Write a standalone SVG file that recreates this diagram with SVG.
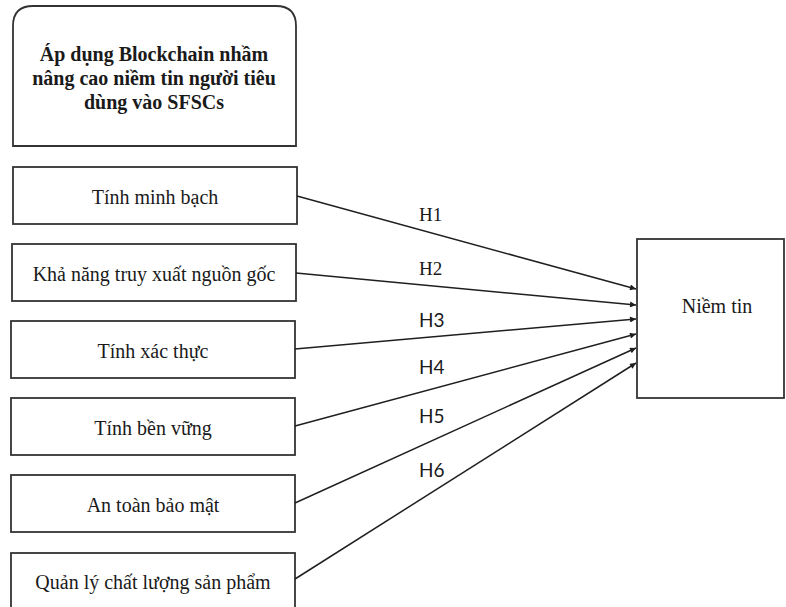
<svg xmlns="http://www.w3.org/2000/svg" width="786" height="607" viewBox="0 0 786 607">
  <style>
    .box { fill: #ffffff; stroke: #333333; stroke-width: 1.8; }
    .lbl { font-family: "Liberation Serif", "Times New Roman", serif; font-size: 20px; fill: #1a1a1a; text-anchor: middle; }
    .title { font-weight: bold; }
    .hyp-serif { font-family: "Liberation Serif", "Times New Roman", serif; font-size: 19px; fill: #1a1a1a; }
    .hyp-sans { font-family: Lato, "Liberation Sans", sans-serif; font-size: 19px; fill: #1a1a1a; }
    .edge { stroke: #1f1f1f; stroke-width: 1.5; fill: none; marker-end: url(#arrow); }
  </style>
  <defs>
    <marker id="arrow" viewBox="0 0 10 10" refX="10" refY="5" markerWidth="5" markerHeight="4" markerUnits="strokeWidth" orient="auto">
      <path d="M0,0 L10,5 L0,10 z" fill="#1f1f1f"/>
    </marker>
  </defs>
  <rect width="786" height="607" fill="#ffffff"/>

  <g id="title">
    <path class="box" d="M13,146 L13,26 Q13,6 33,6 L276,6 Q296,6 296,26 L296,146 Z"/>
    <text class="lbl title" x="154" y="61">Áp dụng Blockchain nhầm</text>
    <text class="lbl title" x="154" y="85">nâng cao niềm tin người tiêu</text>
    <text class="lbl title" x="154" y="109">dùng vào SFSCs</text>
  </g>

  <g id="n1">
    <rect class="box" x="13" y="167" width="284" height="57"/>
    <text class="lbl" x="155" y="204">Tính minh bạch</text>
  </g>
  <g id="n2">
    <rect class="box" x="12" y="244" width="284" height="57"/>
    <text class="lbl" x="154" y="281">Khả năng truy xuất nguồn gốc</text>
  </g>
  <g id="n3">
    <rect class="box" x="11" y="321" width="284" height="57"/>
    <text class="lbl" x="153" y="358">Tính xác thực</text>
  </g>
  <g id="n4">
    <rect class="box" x="11" y="398" width="284" height="57"/>
    <text class="lbl" x="153" y="435">Tính bền vững</text>
  </g>
  <g id="n5">
    <rect class="box" x="11" y="475" width="284" height="57"/>
    <text class="lbl" x="153" y="512">An toàn bảo mật</text>
  </g>
  <g id="n6">
    <rect class="box" x="11" y="553" width="284" height="57"/>
    <text class="lbl" x="153" y="589">Quản lý chất lượng sản phẩm</text>
  </g>

  <g id="trust">
    <rect class="box" x="637" y="239" width="147" height="159"/>
    <text class="lbl" x="717" y="313">Niềm tin</text>
  </g>

  <g id="connectors">
    <line class="edge" x1="297" y1="196" x2="636" y2="289"/>
    <line class="edge" x1="296" y1="273" x2="636" y2="305"/>
    <line class="edge" x1="295" y1="349" x2="636" y2="319"/>
    <line class="edge" x1="295" y1="426" x2="636" y2="334"/>
    <line class="edge" x1="295" y1="503" x2="636" y2="348"/>
    <line class="edge" x1="295" y1="579" x2="636" y2="363"/>
    <text class="hyp-serif" x="419" y="221">H1</text>
    <text class="hyp-serif" x="419" y="275">H2</text>
    <text class="hyp-sans" x="419" y="327">H3</text>
    <text class="hyp-sans" x="419" y="374">H4</text>
    <text class="hyp-sans" x="419" y="423">H5</text>
    <text class="hyp-sans" x="419" y="477">H6</text>
  </g>
</svg>
